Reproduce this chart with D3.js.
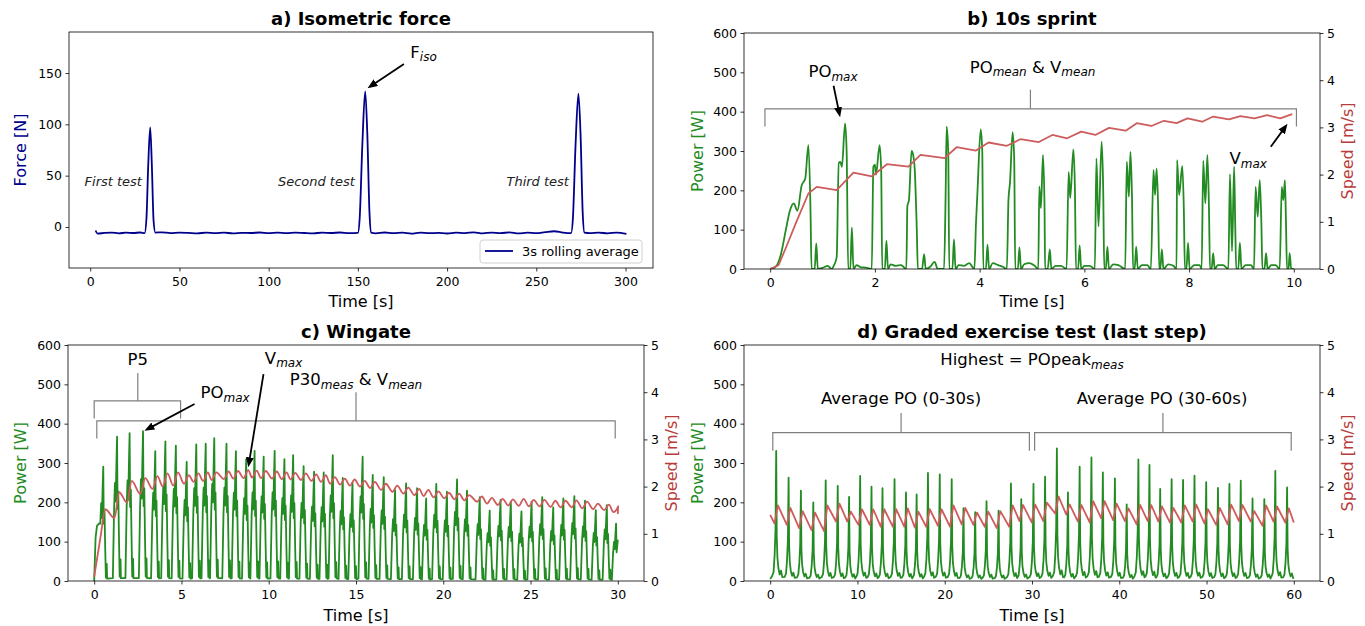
<!DOCTYPE html>
<html>
<meta charset="utf-8">
<title>Test protocols</title>
<style>
    body { margin: 0; background: #fff; }
    svg { font-family: "DejaVu Sans", sans-serif; }
    .title { font-size: 18px; font-weight: bold; text-anchor: middle; }
    .axlabel { font-size: 16px; text-anchor: middle; }
    .note { font-size: 16.5px; fill: #000; }
    .test { font-size: 13px; font-style: italic; text-anchor: end; fill: #222; }
    .brk { fill: none; stroke: #808080; stroke-width: 1.2px; }
    .spine { fill: none; stroke: #000; stroke-width: 0.8px; }
</style>
<script src="https://cdn.jsdelivr.net/npm/d3@7"></script>

<body>
<script>
    // ---- values ----

    // a) isometric force, [time s, force N]
    const force = [[3,-3.5],[4,-6.5],[8,-5.8],[12,-5.5],[16,-6.2],[20,-5.6],[24,-5.9],[28,-5.4],[30.5,-6],
        [31.5,8],[32.5,60],[33.6,97],[34.5,62],[35.5,6],[36.5,-5.5],[40,-5.2],[45,-6],[50,-5.5],[55,-5.8],
        [60,-6.3],[65,-5.5],[70,-6],[75,-5.6],[80,-6.2],[85,-5.7],[90,-5.9],[95,-5.4],[100,-6.1],[105,-5.6],
        [110,-6],[115,-5.5],[120,-5.9],[125,-6.2],[130,-5.6],[135,-5.9],[140,-5.4],[145,-6],[150,-5.8],
        [151,8],[152.5,80],[154.1,132],[155.3,90],[156.5,14],[157.5,-5.5],[160,-6.2],[165,-5.4],[170,-6],
        [175,-5.6],[180,-6.5],[185,-5.5],[190,-6.1],[195,-5.8],[200,-6.4],[205,-5.6],[210,-6],[215,-5.2],
        [220,-6.2],[225,-5.5],[230,-6],[235,-5.3],[240,-6.3],[245,-5.6],[250,-6],[255,-5],[260,-4.2],
        [265,-5.5],[269.5,-6],[270.5,8],[272,80],[273.6,130],[274.8,90],[276,14],[277,-5.5],[280,-6],
        [285,-5.6],[290,-6.2],[295,-5.5],[300.5,-6.8]]

    // b) 10 s sprint, [time s, power W] and [time s, speed m/s]
    const sprintPower = [[0,0],[0.1,5],[0.2,35],[0.3,100],[0.38,150],[0.45,167],[0.52,148],[0.6,212],[0.67,230],
        [0.73,315],[0.77,150],[0.79,0],[0.85,0],[0.88,65],[0.91,0],[1.0,3],[1.1,8],[1.17,0],[1.22,10],[1.27,30],
        [1.31,270],[1.34,272],[1.37,260],[1.43,370],[1.46,300],[1.49,0],[1.53,0],[1.56,105],[1.59,0],[1.65,10],
        [1.72,5],[1.85,3],[1.94,0],[1.97,260],[2.0,265],[2.02,240],[2.09,315],[2.12,250],[2.14,0],[2.19,0],
        [2.22,72],[2.25,0],[2.3,12],[2.4,8],[2.5,10],[2.6,0],[2.62,160],[2.65,175],[2.7,300],[2.73,290],
        [2.76,255],[2.8,100],[2.82,0],[2.9,0],[2.94,38],[2.97,0],[3.05,5],[3.14,18],[3.2,0],[3.32,0],[3.35,185],
        [3.37,362],[3.4,300],[3.42,0],[3.48,0],[3.51,75],[3.54,0],[3.6,10],[3.7,8],[3.8,15],[3.9,0],[3.93,115],
        [3.96,200],[4.02,355],[4.05,300],[4.07,0],[4.12,0],[4.15,62],[4.18,0],[4.25,15],[4.35,10],[4.45,5],
        [4.52,0],[4.55,175],[4.58,220],[4.63,348],[4.66,280],[4.68,0],[4.73,0],[4.76,55],[4.79,0],[4.85,12],
        [4.95,15],[5.05,8],[5.12,0],[5.14,210],[5.17,155],[5.21,290],[5.24,150],[5.25,0],[5.3,0],[5.34,50],
        [5.37,0],[5.45,8],[5.55,8],[5.66,0],[5.7,247],[5.73,180],[5.79,304],[5.82,200],[5.84,0],[5.88,0],
        [5.91,60],[5.94,0],[6.0,8],[6.1,8],[6.2,0],[6.23,281],[6.27,108],[6.33,324],[6.36,200],[6.38,0],
        [6.41,0],[6.44,57],[6.47,0],[6.55,12],[6.65,10],[6.78,0],[6.81,273],[6.85,184],[6.88,298],[6.91,180],
        [6.93,0],[6.96,0],[6.99,57],[7.02,0],[7.1,10],[7.2,10],[7.27,0],[7.32,252],[7.35,188],[7.38,256],
        [7.41,150],[7.43,0],[7.45,0],[7.48,50],[7.51,0],[7.6,12],[7.7,8],[7.76,0],[7.77,277],[7.81,188],
        [7.87,262],[7.9,150],[7.92,0],[7.95,0],[7.98,67],[8.01,0],[8.1,10],[8.2,10],[8.24,0],[8.27,275],
        [8.31,167],[8.35,290],[8.38,150],[8.4,0],[8.43,0],[8.46,40],[8.49,0],[8.55,10],[8.65,10],[8.75,0],
        [8.78,241],[8.82,45],[8.86,260],[8.88,120],[8.9,0],[8.94,0],[8.97,67],[9.0,0],[9.08,10],[9.18,10],
        [9.24,0],[9.27,209],[9.31,133],[9.35,226],[9.38,120],[9.4,0],[9.44,0],[9.47,40],[9.5,0],[9.57,10],
        [9.65,10],[9.73,0],[9.77,209],[9.8,175],[9.83,226],[9.85,120],[9.87,0],[9.9,0],[9.92,40],[9.95,0],[10,0]]
    const sprintSpeed = [[0,0],[0.16,0.08],[0.3,0.45],[0.5,1.0],[0.73,1.6],[0.89,1.74],[1.27,1.67],[1.59,2.04],
        [1.94,1.96],[2.23,2.22],[2.64,2.17],[2.87,2.42],[3.33,2.35],[3.56,2.58],[3.93,2.51],[4.17,2.68],
        [4.52,2.61],[4.78,2.75],[5.13,2.69],[5.39,2.84],[5.67,2.77],[5.94,2.91],[6.21,2.84],[6.47,2.99],
        [6.79,2.93],[7.0,3.09],[7.28,3.03],[7.52,3.14],[7.76,3.09],[7.97,3.19],[8.25,3.12],[8.46,3.23],
        [8.76,3.17],[8.98,3.24],[9.25,3.19],[9.49,3.26],[9.74,3.19],[9.97,3.28]]

    // c) Wingate: one entry per pedal stroke
    const wgTime = [0.52,1.31,2.03,2.8,3.5,4.08,4.68,5.3,5.85,6.39,6.88,7.58,8.12,8.71,9.19,9.71,10.34,10.9,
        11.4,12.0,12.6,13.15,13.67,14.24,14.8,15.38,15.96,16.59,17.24,17.87,18.5,19.02,19.6,20.21,20.79,21.36,
        22.09,22.66,23.28,23.87,24.48,25.06,25.67,26.3,26.88,27.51,28.12,28.74,29.37,29.9]
    const wgPeak = [291,367,376,381,330,355,344,303,347,349,363,349,330,310,331,316,331,310,320,292,278,276,
        320,262,250,316,270,264,231,248,236,210,247,227,258,230,213,179,206,202,177,202,213,187,210,216,204,
        180,193,146]
    const wgSpeedLow = [0.95,1.33,1.66,1.84,1.95,2.0,2.02,2.06,2.1,2.12,2.14,2.16,2.17,2.18,2.19,2.18,2.17,
        2.16,2.15,2.14,2.12,2.1,2.06,2.04,2.02,2.0,1.97,1.93,1.89,1.85,1.82,1.8,1.77,1.75,1.73,1.71,1.68,1.64,
        1.61,1.6,1.59,1.58,1.58,1.57,1.56,1.56,1.54,1.52,1.5,1.46]
    const wgSpeedHigh = [1.52,1.88,2.12,2.18,2.22,2.28,2.3,2.24,2.28,2.3,2.3,2.32,2.33,2.35,2.34,2.33,2.32,
        2.3,2.29,2.28,2.26,2.24,2.2,2.17,2.15,2.12,2.1,2.06,2.02,1.98,1.95,1.93,1.9,1.87,1.85,1.82,1.79,1.76,
        1.74,1.73,1.74,1.72,1.72,1.7,1.7,1.71,1.68,1.64,1.62,1.58]
    const wgPowerStart = [[0,0],[0.08,110],[0.16,140],[0.26,145],[0.33,148]]
    const wgPowerEnd = [30, 105]
    const wgSpeedStart = [0, 0.09]
    const wgSpeedEnd = [30, 1.42]

    // d) graded exercise test, last step: one entry per pedal stroke
    const gxTime = [0.69,2.11,3.52,4.94,6.36,7.74,9.04,10.31,11.61,12.87,14.25,15.56,16.78,18.08,19.43,20.8,
        22.15,23.49,24.79,26.17,27.59,28.77,30.17,31.5,32.85,34.12,35.46,36.81,38.12,39.5,40.85,42.19,43.46,
        44.69,46.0,47.31,48.62,49.96,51.31,52.62,53.92,55.27,56.62,57.88,59.23]
    const gxPeak = [331,263,230,200,256,242,214,267,240,236,259,225,220,275,271,259,185,175,203,179,248,208,
        247,265,337,225,291,314,276,261,195,309,295,234,259,257,268,251,237,247,255,210,208,280,238]
    const gxSpeedLow = [1.22,1.19,1.12,1.08,1.06,1.26,1.26,1.19,1.19,1.15,1.15,1.15,1.13,1.15,1.17,1.15,1.2,
        1.19,1.15,1.12,1.15,1.27,1.24,1.27,1.43,1.41,1.26,1.24,1.33,1.29,1.27,1.2,1.27,1.26,1.24,1.24,1.26,
        1.22,1.19,1.2,1.27,1.26,1.17,1.26,1.24]
    const gxSpeedHigh = [1.6,1.55,1.48,1.45,1.6,1.64,1.47,1.52,1.52,1.52,1.52,1.54,1.47,1.52,1.52,1.6,1.55,
        1.45,1.47,1.48,1.6,1.61,1.62,1.66,1.79,1.62,1.61,1.69,1.69,1.64,1.54,1.61,1.61,1.58,1.55,1.6,1.62,
        1.52,1.55,1.62,1.61,1.48,1.6,1.58,1.54]
    const gxPowerStart = [0, 5]
    const gxPowerEnd = [60, 8]
    const gxSpeedStart = [0, 1.4]
    const gxSpeedEnd = [60, 1.24]

    // tick labels
    const forceTicksX = [0, 50, 100, 150, 200, 250, 300]
    const forceTicksY = [0, 50, 100, 150]
    const powerTicks = [0, 100, 200, 300, 400, 500, 600]
    const speedTicks = [0, 1, 2, 3, 4, 5]
    const sprintTicksX = [0, 2, 4, 6, 8, 10]
    const wingateTicksX = [0, 5, 10, 15, 20, 25, 30]
    const gxtTicksX = [0, 10, 20, 30, 40, 50, 60]

    // shape of one pedal stroke: [offset from peak in s, fraction of peak]
    const wgStroke = [[-0.24,0.02],[-0.17,0.5],[-0.12,0.68],[-0.08,0.55],[-0.035,0.82],[0,1],[0.03,0.5],
        [0.07,0.62],[0.11,0.3],[0.15,0.03],[0.2,0.15],[0.22,0.02]]
    const gxStroke = [[-0.45,0.04],[-0.3,0.07],[-0.18,0.2],[-0.08,0.4],[0,1],[0.06,0.35],[0.14,0.18],
        [0.25,0.1],[0.4,0.05],[0.55,0.08],[0.7,0.03]]

    const green = "#228b22", red = "#cd5c5c", navy = "#00008b"
    const redLabel = "#b83c3c"

    // ---- drawing ----
    const svg = d3.select("body").append("svg").attr("width", 1365).attr("height", 626)
    const defs = svg.append("defs")
    defs.append("marker").attr("id", "head")
        .attr("viewBox", "0 0 10 8").attr("refX", 10).attr("refY", 4)
        .attr("markerWidth", 10).attr("markerHeight", 8)
        .attr("markerUnits", "userSpaceOnUse").attr("orient", "auto")
        .append("path").attr("d", "M0,0L10,4L0,8z").attr("fill", "#000")

    let clipCount = 0
    const fmt = d3.format("d")

    function styleAxis(a) {
        a.select(".domain").remove()
        a.selectAll(".tick line").attr("stroke", "#000").attr("stroke-width", 0.8)
        a.selectAll(".tick text").attr("font-size", 12.5).attr("font-family", "DejaVu Sans").attr("fill", "#000")
    }

    function panel(box, xdom, ydom, xticks, yticks) {
        const g = svg.append("g")
        const x = d3.scaleLinear().domain(xdom).range([box.x0, box.x1])
        const y = d3.scaleLinear().domain(ydom).range([box.y1, box.y0])
        const clipid = "clip" + (++clipCount)
        defs.append("clipPath").attr("id", clipid)
            .append("rect").attr("x", box.x0).attr("y", box.y0)
            .attr("width", box.x1 - box.x0).attr("height", box.y1 - box.y0)
        g.append("g").attr("transform", `translate(0,${box.y1})`)
            .call(d3.axisBottom(x).tickValues(xticks).tickFormat(fmt).tickSize(3.5).tickPadding(6)).call(styleAxis)
        g.append("g").attr("transform", `translate(${box.x0},0)`)
            .call(d3.axisLeft(y).tickValues(yticks).tickFormat(fmt).tickSize(3.5).tickPadding(3.5)).call(styleAxis)
        const plot = g.append("g").attr("clip-path", `url(#${clipid})`)
        return { g, plot, x, y, box }
    }

    function speedAxis(p) {
        p.y2 = d3.scaleLinear().domain([0, 5]).range([p.box.y1, p.box.y0])
        p.g.append("g").attr("transform", `translate(${p.box.x1},0)`)
            .call(d3.axisRight(p.y2).tickValues(speedTicks).tickFormat(fmt).tickSize(3.5).tickPadding(3.5))
            .call(styleAxis)
    }

    function spines(p) {
        p.g.append("rect").attr("class", "spine")
            .attr("x", p.box.x0).attr("y", p.box.y0)
            .attr("width", p.box.x1 - p.box.x0).attr("height", p.box.y1 - p.box.y0)
    }

    function labels(p, title, titleY, xlabelY, ylab, ylabX, ycolor) {
        const cx = (p.box.x0 + p.box.x1) / 2, cy = (p.box.y0 + p.box.y1) / 2
        p.g.append("text").attr("class", "title").attr("x", cx).attr("y", titleY).text(title)
        p.g.append("text").attr("class", "axlabel").attr("x", cx).attr("y", xlabelY).text("Time [s]")
        p.g.append("text").attr("class", "axlabel").attr("fill", ycolor)
            .attr("transform", `translate(${ylabX},${cy}) rotate(-90)`).attr("dy", "0.35em").text(ylab)
    }

    function trace(p, pts, yscale, color, curve) {
        const line = d3.line().x(d => p.x(d[0])).y(d => yscale(d[1])).curve(curve || d3.curveLinear)
        p.plot.append("path").datum(pts).attr("d", line)
            .attr("fill", "none").attr("stroke", color).attr("stroke-width", 1.8).attr("stroke-linejoin", "round")
    }

    // power trace built from the stroke peaks
    function strokes(times, peaks, shape, start, end) {
        const pts = start.slice()
        times.forEach((t, i) => shape.forEach(([dt, f]) => {
            const tt = t + dt
            if (tt > pts[pts.length - 1][0] && tt < end[0]) pts.push([tt, peaks[i] * f])
        }))
        pts.push(end)
        return pts
    }

    // speed trace: a low point just before each stroke, a high point just after
    function swings(times, low, high, before, after, start, end) {
        const pts = [start]
        times.forEach((t, i) => { pts.push([t - before, low[i]]); pts.push([t + after, high[i]]) })
        pts.push(end)
        return pts
    }

    // text with italic subscripts: parts starting with "_" are lowered
    function rich(p, tx, ty, parts, anchor) {
        const t = p.g.append("text").attr("class", "note")
            .attr("x", p.x(tx)).attr("y", p.y(ty)).attr("text-anchor", anchor || "middle")
        let low = false
        parts.forEach(s => {
            const sub = s.startsWith("_")
            const span = t.append("tspan").text(sub ? s.slice(1) : s)
            if (sub) span.attr("font-size", "12px").attr("font-style", "italic")
            if (sub !== low) span.attr("dy", sub ? 3.5 : -3.5)
            low = sub
        })
    }

    function arrow(p, x1, y1, x2, y2) {
        const ax = p.x(x1), ay = p.y(y1), bx = p.x(x2), by = p.y(y2)
        const len = Math.hypot(bx - ax, by - ay)
        p.g.append("line").attr("x1", ax).attr("y1", ay)
            .attr("x2", bx - (bx - ax) / len * 5).attr("y2", by - (by - ay) / len * 5)
            .attr("stroke", "#000").attr("stroke-width", 1.8)
        p.g.append("line").attr("x1", ax).attr("y1", ay).attr("x2", bx).attr("y2", by)
            .attr("stroke", "none").attr("marker-end", "url(#head)")
    }

    function bracket(p, xa, xb, yLine, yEnd, xc, yTop) {
        const X = p.x, Y = p.y
        p.g.append("path").attr("class", "brk")
            .attr("d", `M${X(xa)},${Y(yEnd)}V${Y(yLine)}H${X(xb)}V${Y(yEnd)}M${X(xc)},${Y(yLine)}V${Y(yTop)}`)
    }

    // a) Isometric force
    const pa = panel({ x0: 69, x1: 653, y0: 32, y1: 268 }, [-11.9, 315.4], [-40, 190], forceTicksX, forceTicksY)
    trace(pa, force, pa.y, navy, d3.curveMonotoneX)
    spines(pa)
    labels(pa, "a) Isometric force", 25, 307, "Force [N]", 20, navy)
    pa.g.append("text").attr("class", "test").attr("x", pa.x(29)).attr("y", pa.y(44)).attr("dy", "0.35em").text("First test")
    pa.g.append("text").attr("class", "test").attr("x", pa.x(148.3)).attr("y", pa.y(44)).attr("dy", "0.35em").text("Second test")
    pa.g.append("text").attr("class", "test").attr("x", pa.x(268.3)).attr("y", pa.y(44)).attr("dy", "0.35em").text("Third test")
    rich(pa, 179.4, 165, ["F", "_iso"], "start")
    arrow(pa, 175.8, 158.7, 155.4, 135.2)
    // legend
    const lg = pa.g.append("g")
    lg.append("rect").attr("x", 480).attr("y", 240).attr("width", 162).attr("height", 23).attr("rx", 3)
        .attr("fill", "#fff").attr("fill-opacity", 0.8).attr("stroke", "#d0d0d0")
    lg.append("line").attr("x1", 485).attr("x2", 513).attr("y1", 251).attr("y2", 251)
        .attr("stroke", navy).attr("stroke-width", 1.8)
    lg.append("text").attr("x", 522).attr("y", 255.5).attr("font-size", 13).text("3s rolling average")

    // b) 10 s sprint
    const pb = panel({ x0: 744, x1: 1320, y0: 33, y1: 269 }, [-0.5, 10.5], [0, 600], sprintTicksX, powerTicks)
    speedAxis(pb)
    trace(pb, sprintPower, pb.y, green, d3.curveMonotoneX)
    trace(pb, sprintSpeed, pb.y2, red)
    spines(pb)
    labels(pb, "b) 10s sprint", 25, 307, "Power [W]", 697, green)
    pb.g.append("text").attr("class", "axlabel").attr("fill", redLabel)
        .attr("transform", `translate(1347,151) rotate(-90)`).attr("dy", "0.35em").text("Speed [m/s]")
    bracket(pb, -0.1, 10.05, 407, 362, 4.97, 456)
    rich(pb, 5.01, 499, ["PO", "_mean", " & V", "_mean"])
    rich(pb, 1.2, 488, ["PO", "_max"])
    arrow(pb, 1.21, 466, 1.335, 386)
    rich(pb, 9.13, 266, ["V", "_max"])
    arrow(pb, 9.56, 311, 9.88, 369)

    // c) Wingate
    const pc = panel({ x0: 68, x1: 644, y0: 345, y1: 581 }, [-1.5, 31.5], [0, 600], wingateTicksX, powerTicks)
    speedAxis(pc)
    trace(pc, strokes(wgTime, wgPeak, wgStroke, wgPowerStart, wgPowerEnd), pc.y, green)
    trace(pc, swings(wgTime, wgSpeedLow, wgSpeedHigh, 0.15, 0.12, wgSpeedStart, wgSpeedEnd), pc.y2, red, d3.curveMonotoneX)
    spines(pc)
    labels(pc, "c) Wingate", 338, 621, "Power [W]", 20, green)
    pc.g.append("text").attr("class", "axlabel").attr("fill", redLabel)
        .attr("transform", `translate(671,463) rotate(-90)`).attr("dy", "0.35em").text("Speed [m/s]")
    bracket(pc, 0, 4.95, 458, 413, 2.5, 529)
    rich(pc, 2.5, 549, ["P5"])
    bracket(pc, 0.15, 29.85, 407, 362, 15, 480)
    rich(pc, 15, 498, ["P30", "_meas", " & V", "_mean"])
    rich(pc, 7.5, 464, ["PO", "_max"])
    arrow(pc, 5.75, 450, 2.88, 382)
    rich(pc, 10.85, 552, ["V", "_max"])
    arrow(pc, 9.7, 526, 8.83, 289)

    // d) Graded exercise test
    const pd = panel({ x0: 744, x1: 1320, y0: 345, y1: 581 }, [-3, 63], [0, 600], gxtTicksX, powerTicks)
    speedAxis(pd)
    trace(pd, strokes(gxTime, gxPeak, gxStroke, [gxPowerStart], gxPowerEnd), pd.y, green)
    trace(pd, swings(gxTime, gxSpeedLow, gxSpeedHigh, 0.2, 0.2, gxSpeedStart, gxSpeedEnd), pd.y2, red)
    spines(pd)
    labels(pd, "d) Graded exercise test (last step)", 338, 621, "Power [W]", 697, green)
    pd.g.append("text").attr("class", "axlabel").attr("fill", redLabel)
        .attr("transform", `translate(1347,463) rotate(-90)`).attr("dy", "0.35em").text("Speed [m/s]")
    rich(pd, 30, 549, ["Highest = POpeak", "_meas"])
    rich(pd, 15, 450, ["Average PO (0-30s)"])
    rich(pd, 44.9, 450, ["Average PO (30-60s)"])
    bracket(pd, 0.3, 29.7, 377, 331, 15, 427)
    bracket(pd, 30.3, 59.7, 377, 331, 45, 427)
</script>
</body>

</html>
